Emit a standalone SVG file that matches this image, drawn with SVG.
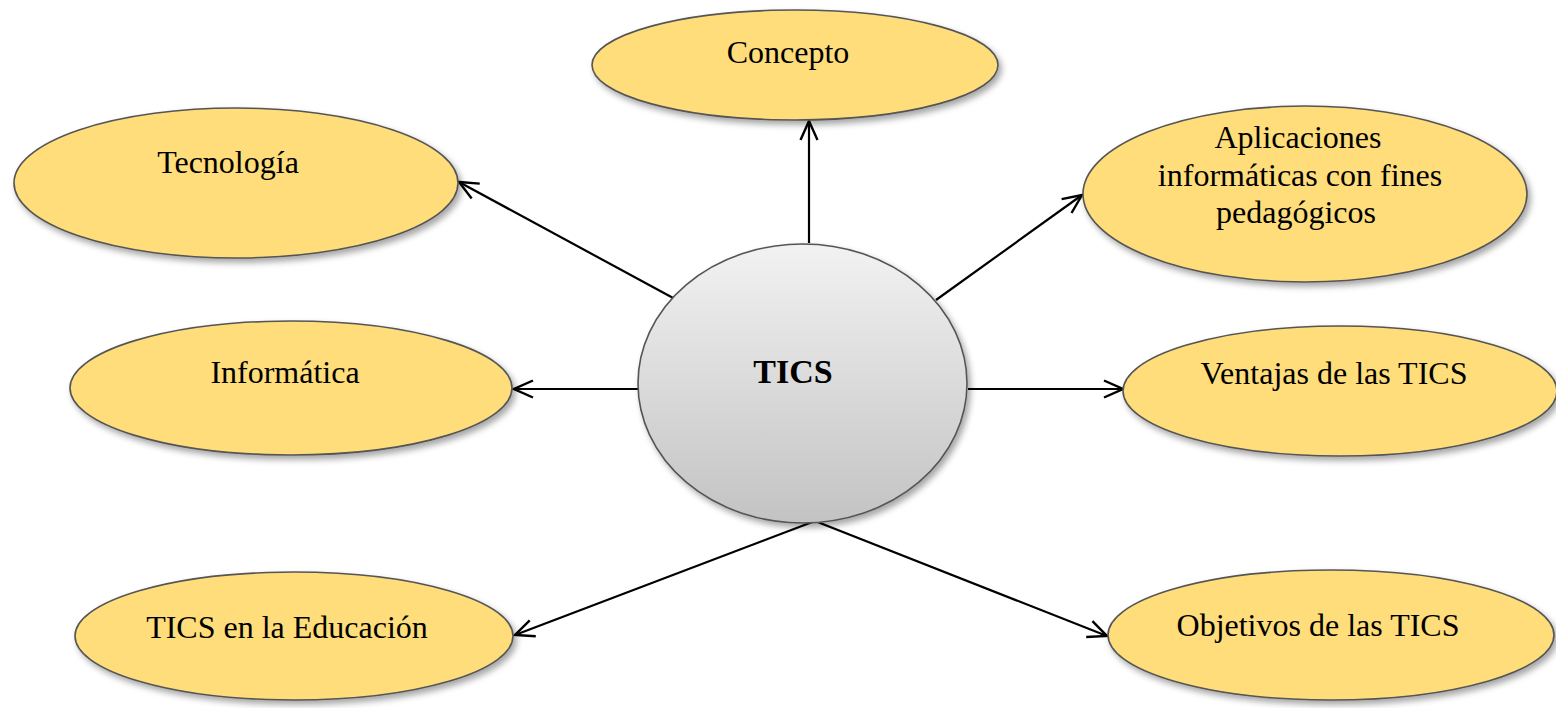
<svg xmlns="http://www.w3.org/2000/svg" width="1556" height="708" viewBox="0 0 1556 708">
<defs>
<filter id="sh" x="-10%" y="-10%" width="125%" height="130%">
<feDropShadow dx="3" dy="4" stdDeviation="3" flood-color="#000" flood-opacity="0.35"/>
</filter>
<linearGradient id="gr" x1="0" y1="0" x2="0" y2="1">
<stop offset="0" stop-color="#F2F2F2"/>
<stop offset="1" stop-color="#C3C3C3"/>
</linearGradient>
<marker id="arr" viewBox="0 0 24 24" refX="22" refY="12" markerWidth="24" markerHeight="24" markerUnits="userSpaceOnUse" orient="auto">
<polyline points="3,3.5 22,12 3,20.5" fill="none" stroke="#000" stroke-width="2.4"/>
</marker>
</defs>
<style>
.n{fill:#FEDD7A;stroke:#555;stroke-width:1.6;filter:url(#sh)}
.c{fill:url(#gr);stroke:#555;stroke-width:1.6;filter:url(#sh)}
.t{font-family:"Liberation Serif","Times New Roman",serif;font-size:32px;fill:#000;text-anchor:middle}
.b{font-weight:bold;font-size:34px}
.l{stroke:#000;stroke-width:2.2;fill:none;marker-end:url(#arr)}
</style>
<rect width="1556" height="708" fill="#fff"/>
<g id="connectors">
<line class="l" x1="809" y1="243" x2="809" y2="121"/>
<line class="l" x1="675" y1="299" x2="459" y2="182"/>
<line class="l" x1="936" y1="300" x2="1082" y2="195"/>
<line class="l" x1="638" y1="389" x2="514" y2="389"/>
<line class="l" x1="968" y1="389" x2="1123" y2="389"/>
<line class="l" x1="815" y1="521" x2="515" y2="635"/>
<line class="l" x1="815" y1="521" x2="1107" y2="636"/>
</g>
<g id="concepto">
<ellipse class="n" cx="795" cy="65" rx="203" ry="55"/>
<text class="t" x="788" y="63">Concepto</text>
</g>
<g id="tecnologia">
<ellipse class="n" cx="236" cy="183" rx="222" ry="75"/>
<text class="t" x="228" y="173">Tecnología</text>
</g>
<g id="aplicaciones">
<ellipse class="n" cx="1305" cy="194" rx="222" ry="88"/>
<text class="t" x="1298" y="148">Aplicaciones</text>
<text class="t" x="1300" y="186">informáticas con fines</text>
<text class="t" x="1296" y="223">pedagógicos</text>
</g>
<g id="informatica">
<ellipse class="n" cx="291" cy="388" rx="221" ry="67"/>
<text class="t" x="285" y="383">Informática</text>
</g>
<g id="ventajas">
<ellipse class="n" cx="1340" cy="391" rx="217" ry="65"/>
<text class="t" x="1334" y="384">Ventajas de las TICS</text>
</g>
<g id="educacion">
<ellipse class="n" cx="294" cy="636" rx="219" ry="64"/>
<text class="t" x="287" y="638">TICS en la Educación</text>
</g>
<g id="objetivos">
<ellipse class="n" cx="1331" cy="635" rx="223" ry="65"/>
<text class="t" x="1318" y="636">Objetivos de las TICS</text>
</g>
<g id="tics">
<ellipse class="c" cx="802.5" cy="383.5" rx="164.5" ry="139.5"/>
<text class="t b" x="793" y="383">TICS</text>
</g>
</svg>
